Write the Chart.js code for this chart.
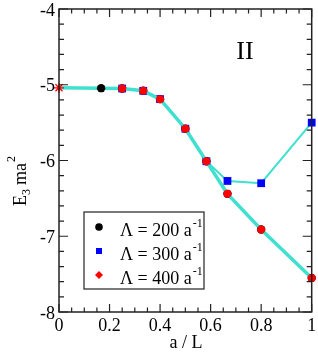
<!DOCTYPE html>
<html>
<head>
<meta charset="utf-8">
<script src="https://cdn.jsdelivr.net/npm/chart.js@4/dist/chart.umd.min.js"></script>
<style>
  html, body { margin: 0; padding: 0; background: #fff; }
  #wrap { width: 318px; height: 353px; }
</style>
</head>
<body>
<div id="wrap"><canvas id="chart-area" width="318" height="353"></canvas></div>
<script>
// values
var lam200X = [0, 1/6, 0.25, 1/3, 0.4, 0.5, 7/12, 2/3, 0.8, 1];
var lam200Y = [-5.04, -5.045, -5.05, -5.08, -5.19, -5.58, -6.01, -6.44, -6.91, -7.55];
var lam300X = [0.25, 1/3, 0.4, 0.5, 7/12, 2/3, 0.8, 1];
var lam300Y = [-5.05, -5.08, -5.19, -5.58, -6.01, -6.27, -6.30, -5.50];
var lam400X = [0.25, 1/3, 0.4, 0.5, 7/12, 2/3, 0.8, 1];
var lam400Y = [-5.05, -5.08, -5.19, -5.58, -6.01, -6.44, -6.91, -7.55];
var limitX = [0];
var limitY = [-5.04];

var xTicks = [0, 0.2, 0.4, 0.6, 0.8, 1];
var yTicks = [-8, -7, -6, -5, -4];
var legendLabels = ['200', '300', '400'];

var lineColor = 'rgb(64, 224, 208)';
var serif = '"Liberation Serif", "DejaVu Serif", serif';

function pts(xs, ys) {
    return xs.map(function (x, i) { return { x: x, y: ys[i] }; });
}

var framePlugin = {
    id: 'frame',
    afterDatasetsDraw: function (chart) {
        var ctx = chart.ctx;
        var a = chart.chartArea;
        var xs = chart.scales.x, ys = chart.scales.y;
        ctx.save();
        ctx.strokeStyle = '#222';
        ctx.lineWidth = 1.5;
        ctx.strokeRect(a.left, a.top, a.right - a.left, a.bottom - a.top);

        // inward ticks on all four sides
        ctx.lineWidth = 1.2;
        ctx.beginPath();
        for (var v = 0; v <= 1.0001; v += 0.05) {
            var px = xs.getPixelForValue(v);
            var major = Math.abs(v / 0.2 - Math.round(v / 0.2)) < 0.01;
            var len = major ? 8 : 4.5;
            ctx.moveTo(px, a.bottom); ctx.lineTo(px, a.bottom - len);
            ctx.moveTo(px, a.top); ctx.lineTo(px, a.top + len);
        }
        for (var w = -8; w <= -3.999; w += 0.2) {
            var py = ys.getPixelForValue(w);
            var maj = Math.abs(w - Math.round(w)) < 0.01;
            var l2 = maj ? 9 : 5;
            ctx.moveTo(a.left, py); ctx.lineTo(a.left + l2, py);
            ctx.moveTo(a.right, py); ctx.lineTo(a.right - l2, py);
        }
        ctx.stroke();

        // tick labels
        ctx.fillStyle = '#000';
        ctx.font = '18px ' + serif;
        ctx.textAlign = 'center';
        ctx.textBaseline = 'middle';
        xTicks.forEach(function (t) {
            ctx.fillText(String(t), xs.getPixelForValue(t), a.bottom + 14);
        });
        ctx.textAlign = 'right';
        yTicks.forEach(function (t) {
            ctx.fillText(String(t), a.left - 4, ys.getPixelForValue(t) + 2);
        });

        // axis titles
        ctx.textAlign = 'center';
        ctx.fillText('a / L', 186, 343);

        ctx.save();
        ctx.translate(20, 170);
        ctx.rotate(-Math.PI / 2);
        ctx.textAlign = 'left';
        ctx.textBaseline = 'alphabetic';
        var x0 = -36;
        ctx.font = '18px ' + serif;
        ctx.fillText('E', x0, 6);
        x0 += ctx.measureText('E').width;
        ctx.font = '12px ' + serif;
        ctx.fillText('3', x0, 10);
        x0 += ctx.measureText('3').width + 4;
        ctx.font = '18px ' + serif;
        ctx.fillText('ma', x0, 6);
        x0 += ctx.measureText('ma').width;
        ctx.font = '12px ' + serif;
        ctx.fillText('2', x0 + 1, -5);
        ctx.restore();

        // panel label
        ctx.font = '26px ' + serif;
        ctx.textAlign = 'center';
        ctx.fillText('II', 245, 52);

        // legend box
        var bx = 84, by = 212, bw = 120, bh = 77;
        ctx.fillStyle = '#fff';
        ctx.fillRect(bx, by, bw, bh);
        ctx.strokeStyle = '#222';
        ctx.lineWidth = 1.2;
        ctx.strokeRect(bx, by, bw, bh);
        var rows = [227, 251, 275];
        // markers
        ctx.fillStyle = '#000';
        ctx.beginPath(); ctx.arc(99, rows[0], 3.8, 0, Math.PI * 2); ctx.fill();
        ctx.fillStyle = '#0000ff';
        ctx.fillRect(96, rows[1] - 3, 6, 6);
        ctx.fillStyle = '#ff0000';
        ctx.beginPath();
        ctx.moveTo(99, rows[2] - 4); ctx.lineTo(103, rows[2]);
        ctx.lineTo(99, rows[2] + 4); ctx.lineTo(95, rows[2]);
        ctx.closePath(); ctx.fill();
        // texts
        ctx.fillStyle = '#000';
        ctx.textAlign = 'left';
        ctx.textBaseline = 'alphabetic';
        legendLabels.forEach(function (lab, i) {
            var base = rows[i] + 9;
            ctx.font = '18px ' + serif;
            var s = '\u039B = ' + lab + ' a';
            ctx.fillText(s, 120, base);
            var wdt = ctx.measureText(s).width;
            ctx.font = '12px ' + serif;
            ctx.fillText('-1', 120 + wdt + 1, base - 9);
        });
        ctx.restore();
    }
};

var ctx = document.getElementById('chart-area').getContext('2d');
var config = {
    type: 'scatter',
    data: {
        datasets: [
            {
                label: '\u039B = 200',
                data: pts(lam200X, lam200Y),
                showLine: true,
                borderColor: lineColor,
                borderWidth: 3.5,
                backgroundColor: '#000',
                pointBackgroundColor: '#000',
                pointBorderWidth: 0,
                pointRadius: lam200X.map(function (x, i) { return i === 0 ? 0 : 4.2; }),
                pointStyle: 'circle',
                order: 4
            },
            {
                label: '\u039B = 300',
                data: pts(lam300X, lam300Y),
                showLine: true,
                borderColor: lineColor,
                borderWidth: 2,
                pointBackgroundColor: '#0000ff',
                pointBorderColor: '#0000ff',
                pointBorderWidth: 0,
                pointRadius: 5.5,
                pointStyle: 'rect',
                order: 3
            },
            {
                label: '\u039B = 400',
                data: pts(lam400X, lam400Y),
                showLine: true,
                borderColor: lineColor,
                borderWidth: 2,
                pointBackgroundColor: '#ff0000',
                pointBorderWidth: 0,
                pointRadius: 4,
                pointStyle: 'circle',
                order: 2
            },
            {
                label: 'limit',
                data: pts(limitX, limitY),
                showLine: false,
                pointStyle: 'star',
                pointRadius: 5,
                pointBorderColor: '#ff0000',
                pointBorderWidth: 1.3,
                pointBackgroundColor: '#ff0000',
                order: 1
            }
        ]
    },
    options: {
        responsive: false,
        animation: false,
        clip: false,
        layout: { padding: { left: 59, right: 5, top: 9, bottom: 41 } },
        plugins: { legend: { display: false }, tooltip: { enabled: false } },
        scales: {
            x: {
                type: 'linear', min: 0, max: 1,
                ticks: { display: false, stepSize: 0.2 },
                grid: { display: false, drawTicks: false },
                border: { display: false }
            },
            y: {
                type: 'linear', min: -8, max: -4,
                ticks: { display: false, stepSize: 1 },
                grid: { display: false, drawTicks: false },
                border: { display: false }
            }
        }
    },
    plugins: [framePlugin]
};
var chart = new Chart(ctx, config);
</script>
</body>
</html>
